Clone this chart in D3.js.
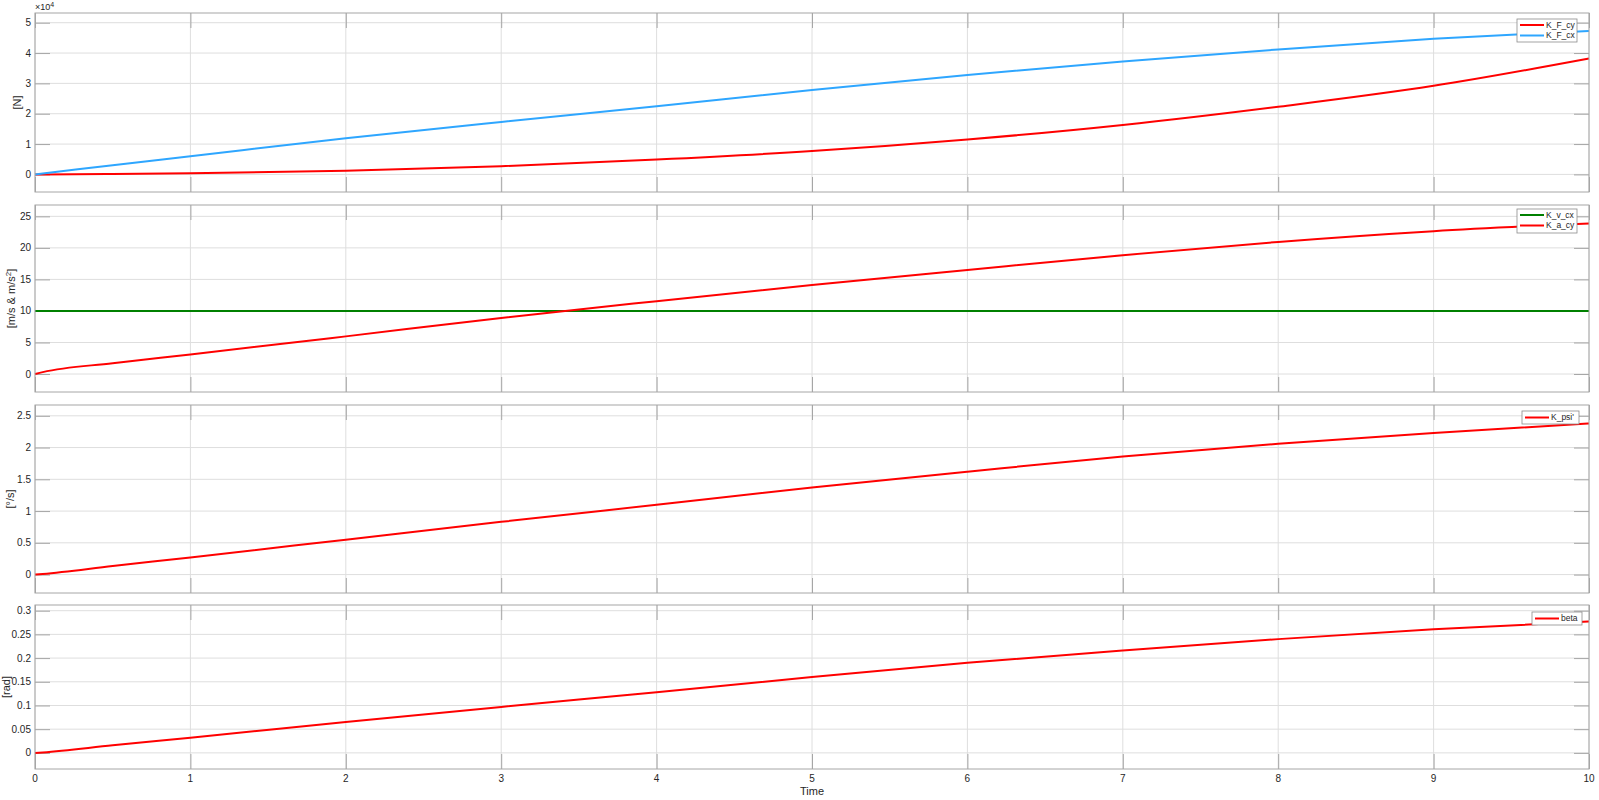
<!DOCTYPE html>
<html>
<head>
<meta charset="utf-8">
<script src="https://cdn.jsdelivr.net/npm/d3@7"></script>
<style>
  body { margin: 0; background: #fff; }
  text { font-family: "Liberation Sans", Arial, sans-serif; fill: #262626; }
</style>
</head>
<body>
<div id="chart"></div>
<script>
// time samples (s)
const time = [0, 0.05, 0.5, 1, 2, 3, 4, 5, 6, 7, 8, 9, 10];

// panel 1 : forces [N]
const kFcy = [0, 5, 150, 400, 1200, 2700, 4900, 7700, 11500, 16300, 22300, 29200, 38200];
const kFcx = [0, 300, 3050, 6000, 11900, 17300, 22500, 27800, 32800, 37200, 41200, 44700, 47300];

// panel 2 : speed & accel
const kVcx = [10, 10, 10, 10, 10, 10, 10, 10, 10, 10, 10, 10, 10];
const kAcy = [0, 0.3, 1.72, 3.1, 5.97, 8.9, 11.55, 14.1, 16.5, 18.85, 20.95, 22.65, 23.88];

// panel 3 : yaw rate
const kPsi = [0, 0.01, 0.135, 0.27, 0.55, 0.83, 1.1, 1.37, 1.62, 1.86, 2.06, 2.23, 2.38];

// panel 4 : side slip
const beta = [0, 0.001, 0.016, 0.032, 0.065, 0.097, 0.128, 0.16, 0.19, 0.216, 0.24, 0.261, 0.277];

const xTicks = [0, 1, 2, 3, 4, 5, 6, 7, 8, 9, 10];

const W = 1599, H = 800;
const left = 35, right = 1589;

const panels = [
  { top: 13, bottom: 192, domain: [-5800, 53200], ticks: [0, 10000, 20000, 30000, 40000, 50000],
    fmt: d => d / 1e4, label: "[N]", labelX: 21,
    series: [{ name: "K_F_cy", values: kFcy, color: "#ff0000" }, { name: "K_F_cx", values: kFcx, color: "#2ea6ff" }],
    legend: { x: 1517, y: 19, w: 60, h: 23 } },
  { top: 205, bottom: 392, domain: [-2.85, 26.8], ticks: [0, 5, 10, 15, 20, 25],
    fmt: d => d, label: "sup", labelX: 15,
    series: [{ name: "K_v_cx", values: kVcx, color: "#008000" }, { name: "K_a_cy", values: kAcy, color: "#ff0000" }],
    legend: { x: 1517, y: 209, w: 60, h: 24 } },
  { top: 405, bottom: 593, domain: [-0.29, 2.67], ticks: [0, 0.5, 1, 1.5, 2, 2.5],
    fmt: d => d, label: "[°/s]", labelX: 14,
    series: [{ name: "K_psi'", values: kPsi, color: "#ff0000" }],
    legend: { x: 1522, y: 411, w: 57, h: 13 } },
  { top: 605, bottom: 769, domain: [-0.034, 0.312], ticks: [0, 0.05, 0.1, 0.15, 0.2, 0.25, 0.3],
    fmt: d => d, label: "[rad]", labelX: 10,
    series: [{ name: "beta", values: beta, color: "#ff0000" }],
    legend: { x: 1532, y: 612, w: 50, h: 13 } }
];

const svg = d3.select("#chart").append("svg")
  .attr("width", W)
  .attr("height", H);

const x = d3.scaleLinear().domain([0, 10]).range([left, right]);

panels.forEach((p, i) => {
  const y = d3.scaleLinear().domain(p.domain).range([p.bottom, p.top]);
  const g = svg.append("g");

  // grid
  g.append("g").selectAll("line").data(xTicks).join("line")
    .attr("x1", d => x(d)).attr("x2", d => x(d))
    .attr("y1", p.top).attr("y2", p.bottom)
    .attr("stroke", "#dedede").attr("stroke-width", 1);
  g.append("g").selectAll("line").data(p.ticks).join("line")
    .attr("x1", left).attr("x2", right)
    .attr("y1", d => y(d)).attr("y2", d => y(d))
    .attr("stroke", "#dedede").attr("stroke-width", 1);

  // axes with inward ticks (left/right/bottom/top)
  const yl = g.append("g").attr("transform", `translate(${left},0)`)
    .call(d3.axisRight(y).tickValues(p.ticks).tickSize(15).tickFormat(""));
  const yr = g.append("g").attr("transform", `translate(${right},0)`)
    .call(d3.axisLeft(y).tickValues(p.ticks).tickSize(15).tickFormat(""));
  const xb = g.append("g").attr("transform", `translate(0,${p.bottom})`)
    .call(d3.axisTop(x).tickValues(xTicks).tickSize(15).tickFormat(""));
  const xt = g.append("g").attr("transform", `translate(0,${p.top})`)
    .call(d3.axisBottom(x).tickValues(xTicks).tickSize(15).tickFormat(""));
  [yl, yr, xb, xt].forEach(a => {
    a.select(".domain").remove();
    a.selectAll("line").attr("stroke", "#a6a6a6");
  });

  // y tick labels
  g.append("g").selectAll("text").data(p.ticks).join("text")
    .attr("x", 31).attr("y", d => y(d)).attr("dy", "0.35em")
    .attr("text-anchor", "end").style("font-size", "10px")
    .text(p.fmt);

  // series
  const line = d3.line()
    .x((d, k) => x(time[k]))
    .y(d => y(d))
    .curve(d3.curveMonotoneX);
  p.series.forEach(s => {
    g.append("path").datum(s.values)
      .attr("fill", "none")
      .attr("stroke", s.color)
      .attr("stroke-width", 2)
      .attr("d", line);
  });

  // box
  g.append("rect")
    .attr("x", left).attr("y", p.top)
    .attr("width", right - left).attr("height", p.bottom - p.top)
    .attr("fill", "none").attr("stroke", "#a6a6a6").attr("stroke-width", 1);

  // y label
  const mid = (p.top + p.bottom) / 2;
  const lab = g.append("text")
    .attr("transform", `translate(${p.labelX},${mid}) rotate(-90)`)
    .attr("text-anchor", "middle").style("font-size", "11px");
  if (p.label === "sup") {
    lab.append("tspan").text("[m/s & m/s");
    lab.append("tspan").attr("baseline-shift", "super").style("font-size", "8px").text("2");
    lab.append("tspan").text("]");
  } else {
    lab.text(p.label);
  }

  // legend
  const lg = g.append("g").attr("transform", `translate(${p.legend.x},${p.legend.y})`);
  lg.append("rect").attr("width", p.legend.w).attr("height", p.legend.h)
    .attr("fill", "#fff").attr("stroke", "#8c8c8c").attr("stroke-width", 0.8);
  const rowH = p.series.length > 1 ? 10.5 : 0;
  p.series.forEach((s, k) => {
    const cy = (p.series.length > 1 ? 6 : 6.5) + k * rowH;
    lg.append("line").attr("x1", 3).attr("x2", 27).attr("y1", cy).attr("y2", cy)
      .attr("stroke", s.color).attr("stroke-width", 2);
    lg.append("text").attr("x", 29).attr("y", cy).attr("dy", "0.35em")
      .style("font-size", "8.5px").text(s.name);
  });
});

// exponent label on first panel
const ex = svg.append("text").attr("x", 35).attr("y", 10).style("font-size", "9px");
ex.append("tspan").text("×10");
ex.append("tspan").attr("baseline-shift", "super").style("font-size", "7px").text("4");

// x tick labels (bottom panel only)
svg.append("g").selectAll("text").data(xTicks).join("text")
  .attr("x", d => x(d)).attr("y", 778).attr("dy", "0.35em")
  .attr("text-anchor", "middle").style("font-size", "10px")
  .text(d => d);

svg.append("text")
  .attr("x", (left + right) / 2).attr("y", 791).attr("dy", "0.35em")
  .attr("text-anchor", "middle").style("font-size", "11px")
  .text("Time");
</script>
</body>
</html>
